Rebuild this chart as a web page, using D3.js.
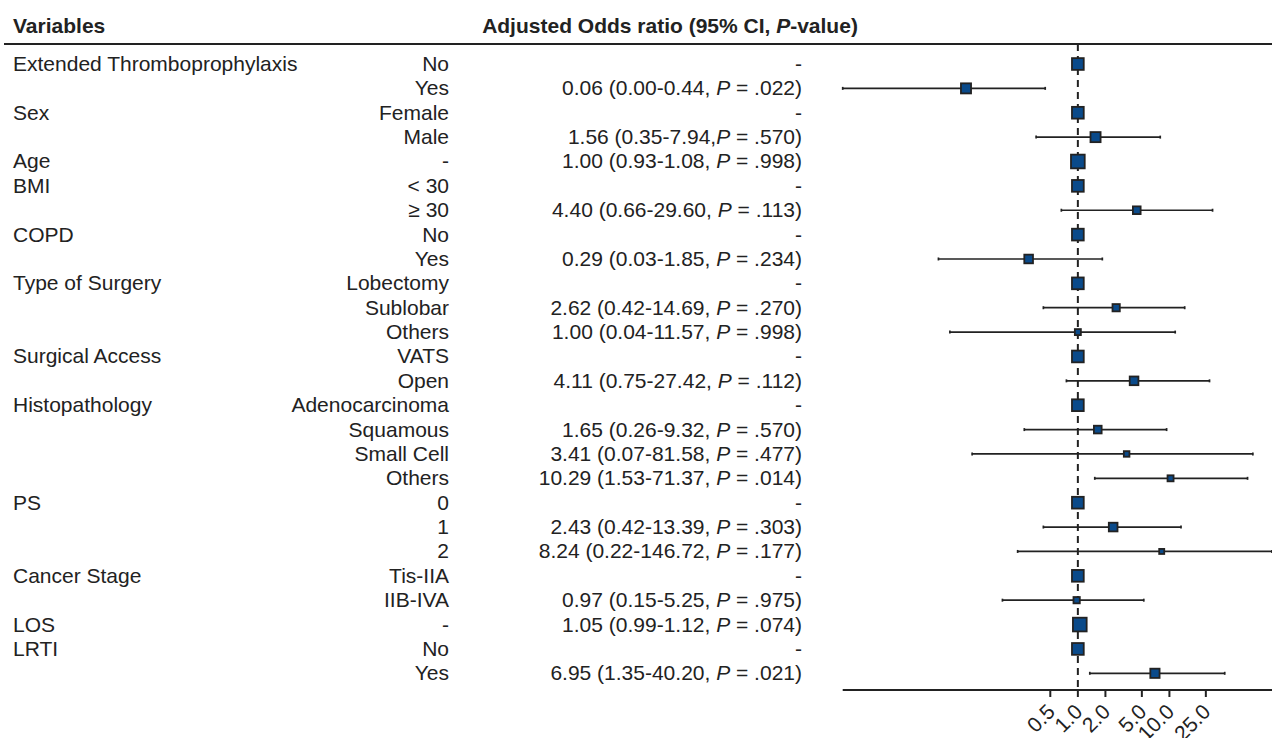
<!DOCTYPE html>
<html><head><meta charset="utf-8">
<script src="https://cdn.jsdelivr.net/npm/d3@7"></script>
<style>
html,body{margin:0;padding:0;background:#fff;}
svg{display:block;font-family:"Liberation Sans",Arial,Helvetica,sans-serif;}
</style></head>
<body>
<svg id="chart" width="1272" height="738"></svg>
<script>
// ---- data ----
const variables = ["Extended Thromboprophylaxis","","Sex","","Age","BMI","","COPD","","Type of Surgery","","","Surgical Access","","Histopathology","","","","PS","","","Cancer Stage","","LOS","LRTI",""];
const levels = ["No","Yes","Female","Male","-","< 30","\u2265 30","No","Yes","Lobectomy","Sublobar","Others","VATS","Open","Adenocarcinoma","Squamous","Small Cell","Others","0","1","2","Tis-IIA","IIB-IVA","-","No","Yes"];
const ciLabels = ["-","0.06 (0.00-0.44, P = .022)","-","1.56 (0.35-7.94,P = .570)","1.00 (0.93-1.08, P = .998)","-","4.40 (0.66-29.60, P = .113)","-","0.29 (0.03-1.85, P = .234)","-","2.62 (0.42-14.69, P = .270)","1.00 (0.04-11.57, P = .998)","-","4.11 (0.75-27.42, P = .112)","-","1.65 (0.26-9.32, P = .570)","3.41 (0.07-81.58, P = .477)","10.29 (1.53-71.37, P = .014)","-","2.43 (0.42-13.39, P = .303)","8.24 (0.22-146.72, P = .177)","-","0.97 (0.15-5.25, P = .975)","1.05 (0.99-1.12, P = .074)","-","6.95 (1.35-40.20, P = .021)"];
const oddsRatio = [1,0.06,1,1.56,1.00,1,4.40,1,0.29,1,2.62,1.00,1,4.11,1,1.65,3.41,10.29,1,2.43,8.24,1,0.97,1.05,1,6.95];
const ciLower = [null,0.00,null,0.35,0.93,null,0.66,null,0.03,null,0.42,0.04,null,0.75,null,0.26,0.07,1.53,null,0.42,0.22,null,0.15,0.99,null,1.35];
const ciUpper = [null,0.44,null,7.94,1.08,null,29.60,null,1.85,null,14.69,11.57,null,27.42,null,9.32,81.58,71.37,null,13.39,146.72,null,5.25,1.12,null,40.20];
const weights = [0.84,0.72,0.84,0.72,0.98,0.84,0.55,0.84,0.62,0.84,0.52,0.43,0.84,0.62,0.84,0.55,0.40,0.43,0.84,0.62,0.36,0.84,0.45,0.98,0.84,0.66];
const tickValues = [0.5,1,2,5,10,25];
const tickLabels = ["0.5","1.0","2.0","5.0","10.0","25.0"];
const headers = ["Variables","Adjusted Odds ratio (95% CI, P-value)"];

// ---- layout ----
const svg = d3.select("#chart");
const FS = 21;
const idx = d3.range(levels.length);
const y = d3.scalePoint().domain(idx).range([64, 673.3]);
const x = d3.scaleLog().domain([0.0027, 132]).range([842.7, 1272]).clamp(true);
const box = d3.scaleLinear().domain([0,1]).range([0,14]);
const ink = "#222";

// headers
svg.append("text").attr("x",13).attr("y",33).attr("font-size",FS).attr("font-weight","bold").attr("fill",ink).text(headers[0]);
const h2 = svg.append("text").attr("x",670).attr("y",33).attr("text-anchor","middle").attr("font-size",FS).attr("font-weight","bold").attr("fill",ink);
{
  const parts = headers[1].split("P-value");
  h2.append("tspan").text(parts[0]);
  h2.append("tspan").attr("font-style","italic").text("P");
  h2.append("tspan").text("-value" + parts[1]);
}
svg.append("line").attr("x1",4).attr("x2",1272).attr("y1",44).attr("y2",44).attr("stroke",ink).attr("stroke-width",2);

// text columns
const ty = i => y(i) + 7;
svg.append("g").selectAll("text").data(idx).join("text")
  .attr("x",13).attr("y",ty).attr("font-size",FS).attr("fill",ink).text(i=>variables[i]);
svg.append("g").selectAll("text").data(idx).join("text")
  .attr("x",449).attr("y",ty).attr("text-anchor","end").attr("font-size",FS).attr("fill",ink).text(i=>levels[i]);
const ciG = svg.append("g").selectAll("text").data(idx).join("text")
  .attr("x",802).attr("y",ty).attr("text-anchor","end").attr("font-size",FS).attr("fill",ink);
ciG.each(function(i){
  const t = d3.select(this), s = ciLabels[i];
  const k = s.indexOf("P");
  if (k < 0) { t.text(s); return; }
  t.append("tspan").text(s.slice(0,k));
  t.append("tspan").attr("font-style","italic").text("P");
  t.append("tspan").text(s.slice(k+1));
});

// reference dashed line
svg.append("line").attr("x1",x(1)).attr("x2",x(1)).attr("y1",44).attr("y2",690)
  .attr("stroke",ink).attr("stroke-width",2).attr("stroke-dasharray","7,5");

// CI lines
const ciIdx = idx.filter(i => ciLower[i] !== null);
const cg = svg.append("g");
cg.selectAll("line.ci").data(ciIdx).join("line").attr("class","ci")
  .attr("x1",i=>x(ciLower[i])).attr("x2",i=>x(ciUpper[i])).attr("y1",y).attr("y2",y)
  .attr("stroke",ink).attr("stroke-width",1.7);
cg.selectAll("line.capl").data(ciIdx).join("line").attr("class","capl")
  .attr("x1",i=>x(ciLower[i])).attr("x2",i=>x(ciLower[i])).attr("y1",i=>y(i)-1.5).attr("y2",i=>y(i)+1.5)
  .attr("stroke",ink).attr("stroke-width",1.7);
cg.selectAll("line.capu").data(ciIdx).join("line").attr("class","capu")
  .attr("x1",i=>x(ciUpper[i])).attr("x2",i=>x(ciUpper[i])).attr("y1",i=>y(i)-1.5).attr("y2",i=>y(i)+1.5)
  .attr("stroke",ink).attr("stroke-width",1.7);

// boxes
svg.append("g").selectAll("rect").data(idx).join("rect")
  .attr("x",i=>x(oddsRatio[i]) - box(weights[i])/2)
  .attr("y",i=>y(i) - box(weights[i])/2)
  .attr("width",i=>box(weights[i])).attr("height",i=>box(weights[i]))
  .attr("fill","#0a4a8a").attr("stroke",ink).attr("stroke-width",1.8);

// x axis
const axisY = 690;
svg.append("line").attr("x1",842.7).attr("x2",1272).attr("y1",axisY).attr("y2",axisY).attr("stroke",ink).attr("stroke-width",2.2);
const tg = svg.append("g").selectAll("g").data(tickValues).join("g");
tg.append("line").attr("x1",d=>x(d)).attr("x2",d=>x(d)).attr("y1",axisY).attr("y2",axisY+7).attr("stroke",ink).attr("stroke-width",2);
tg.append("text").attr("font-size",21).attr("fill",ink).attr("text-anchor","end")
  .attr("transform",d=>`translate(${x(d)+6},${axisY+23}) rotate(-45)`)
  .text((d,i)=>tickLabels[i]);
</script>
</body></html>
